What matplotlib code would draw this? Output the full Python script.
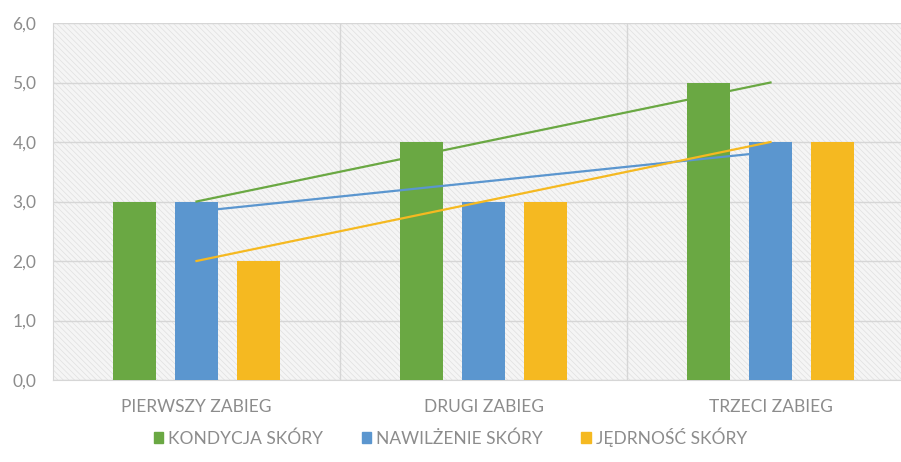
import numpy as np
import matplotlib as mpl
mpl.use("Agg")
import matplotlib.pyplot as plt
from matplotlib.patches import Patch, Rectangle

categories = ['PIERWSZY ZABIEG', 'DRUGI ZABIEG', 'TRZECI ZABIEG']
series = ['KONDYCJA SKÓRY', 'NAWILŻENIE SKÓRY', 'JĘDRNOŚĆ SKÓRY']
kondycja = [3, 4, 5]
nawilzenie = [3, 3, 4]
jedrnosc = [2, 3, 4]
yticks = [0, 1, 2, 3, 4, 5, 6]
colors = ['#6aa843', '#5b96cf', '#f5b921']

plt.rcParams['font.family'] = ['Lato', 'DejaVu Sans']
mpl.rcParams['hatch.linewidth'] = 0.5
grey = '#8c8c8c'

fig = plt.figure(figsize=(9.01, 4.62), dpi=100)
# right edge of the plot runs past the picture, like the reference crop
ax = fig.add_axes([53 / 901, 82 / 462, 861 / 901, 357 / 462])
ax.set_facecolor('#f5f5f5')
ax.add_patch(Rectangle((0, 0), 1, 1, transform=ax.transAxes, facecolor='none',
                       edgecolor='#e0e0e0', hatch='\\\\\\\\\\\\', linewidth=0,
                       zorder=0))

x = np.arange(len(categories))
width = 0.15
step = 0.216
for i, (vals, c) in enumerate(zip([kondycja, nawilzenie, jedrnosc], colors)):
    ax.bar(x + (i - 1) * step, vals, width, color=c, zorder=3)
    # linear trend line across the categories
    k, b = np.polyfit(x, vals, 1)
    ax.plot(x, k * x + b, color=c, linewidth=1.6, zorder=4)

ax.set_xlim(-0.5, 2.5)
ax.set_ylim(0, 6)
ax.set_yticks(yticks)
ax.set_yticklabels([f'{t:.1f}'.replace('.', ',') for t in yticks])
ax.set_xticks(x)
ax.set_xticklabels(categories)
ax.set_xticks([0.5, 1.5], minor=True)
ax.tick_params(length=0, colors=grey, labelsize=12.5)
ax.tick_params(axis='x', pad=14)
ax.tick_params(axis='y', pad=12)
ax.tick_params(which='minor', length=0)
ax.grid(axis='y', color='#d6d6d6', linewidth=1, zorder=1)
ax.grid(axis='x', which='minor', color='#d6d6d6', linewidth=1, zorder=1)
ax.set_axisbelow(True)
for s in ['top', 'right']:
    ax.spines[s].set_visible(False)
for s in ['left', 'bottom']:
    ax.spines[s].set_color('#d6d6d6')

handles = [Patch(color=c) for c in colors]
leg = fig.legend(handles, series, loc='center', bbox_to_anchor=(0.5, 1 - 437 / 462),
                 ncol=3, frameon=False, fontsize=12.5, handlelength=0.55,
                 handleheight=0.55, handletextpad=0.3, columnspacing=2.2)
for t in leg.get_texts():
    t.set_color(grey)

fig.savefig('out.png', dpi=100)
